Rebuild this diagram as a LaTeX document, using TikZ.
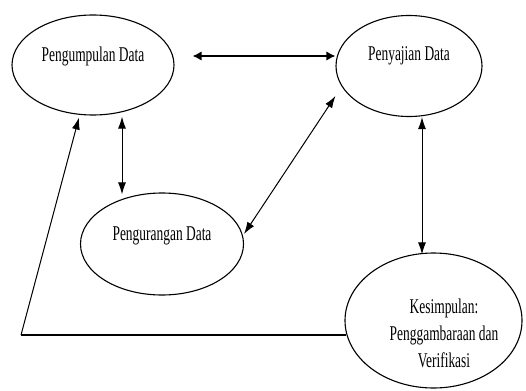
\documentclass[tikz,border=0pt]{standalone}
\usepackage{fontspec}
\setmainfont{Liberation Serif}[FakeStretch=0.64]
\usetikzlibrary{shapes.geometric,arrows.meta,calc}
\begin{document}
\begin{tikzpicture}[x=1pt,y=-1pt,
  oval/.style={draw=black,line width=1.1pt,ellipse,inner sep=0pt},
  lbl/.style={font=\fontsize{21}{27}\selectfont,inner sep=0pt,align=center},
  thin2/.style={line width=1pt,{Latex[length=12pt,width=8pt]}-{Latex[length=12pt,width=8pt]}},
  thick2/.style={line width=2pt,{Latex[length=9pt,width=9.5pt]}-{Latex[length=9pt,width=9.5pt]}}]
\useasboundingbox (0,0) rectangle (526,390);
\node[oval,minimum width=162pt,minimum height=100pt] (e1) at (93,65) {};
\node[oval,minimum width=146pt,minimum height=101pt] (e2) at (409,66) {};
\node[oval,minimum width=163pt,minimum height=102pt] (e3) at (162,244) {};
\node[oval,minimum width=177pt,minimum height=135pt] (e4) at (433.5,320.5) {};
\node[lbl,anchor=base] (t1) at (93,62) {Pengumpulan Data};
\node[lbl,anchor=base] (t2) at (409,61) {Penyajian Data};
\node[lbl,anchor=base] (t3) at (162,240) {Pengurangan Data};
\node[lbl] (t4) at (444,333) {Kesimpulan:\\Penggambaraan dan\\Verifikasi};
\draw[thick2] ($(e1.east)+(18,-9)$) -- ($(e2.west)+(0,-10)$);
\draw[thin2] ($(e1.south)+(29,1)$) -- ($(e3.north)+(-40,2)$);
\draw[thin2] ($(e2.west)+(0,30)$) -- ($(e3.east)+(0,-10)$);
\draw[thin2] ($(e2.south)+(13,0)$) -- ($(e4.north)+(-11.5,2)$);
\coordinate (c) at (21,335);
\draw[line width=2pt] ($(e4.west)+(2,14.5)$) -- (c);
\draw[line width=1pt,-{Latex[length=12pt,width=8pt]}] (c) -- ($(e1.south)+(-14,2)$);
\end{tikzpicture}
\end{document}
